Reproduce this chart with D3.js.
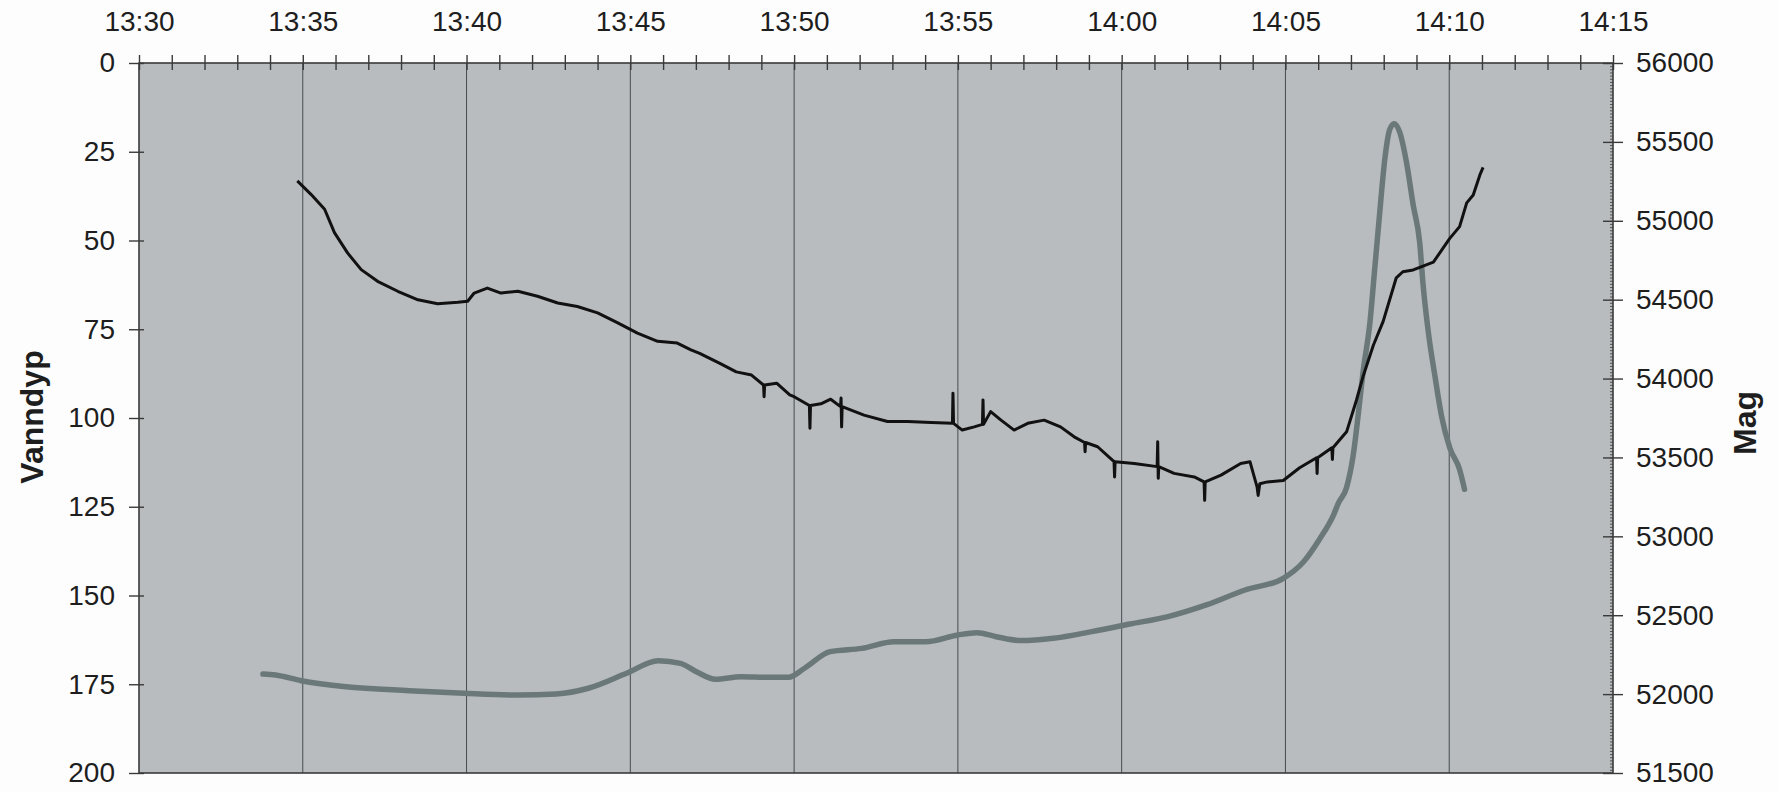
<!DOCTYPE html>
<html>
<head>
<meta charset="utf-8">
<script src="https://cdn.jsdelivr.net/npm/d3@7"></script>
<style>
  body { margin: 0; background: #fdfdfd; }
  svg text { font-family: "Liberation Sans", Arial, Helvetica, sans-serif; fill: #1e1e1e; }
</style>
</head>
<body>
<div id="chart"></div>
<script>
// tick labels
const timeTicks = ['13:30','13:35','13:40','13:45','13:50','13:55','14:00','14:05','14:10','14:15']
const depthTicks = [0, 25, 50, 75, 100, 125, 150, 175, 200]
const magTicks = [51500, 52000, 52500, 53000, 53500, 54000, 54500, 55000, 55500, 56000]

// Vanndyp (water depth)
const depthTime = ['13:34:50','13:35:15','13:35:40','13:35:58','13:36:22','13:36:47','13:37:17','13:37:54','13:38:31','13:39:07',
  '13:39:44','13:40:02','13:40:14','13:40:38','13:41:03','13:41:34','13:42:10','13:42:47','13:43:23','13:44:00',
  '13:44:37','13:45:13','13:45:50','13:46:26','13:46:51','13:47:07','13:47:44','13:48:14','13:48:42','13:49:04',
  '13:49:05','13:49:06','13:49:28','13:49:52','13:50:00','13:50:28','13:50:29','13:50:30','13:50:49','13:51:07',
  '13:51:25','13:51:26','13:51:27','13:51:28','13:52:08','13:52:51','13:53:28','13:54:11','13:54:50','13:54:51',
  '13:54:52','13:55:08','13:55:30','13:55:45','13:55:46','13:55:47','13:56:00','13:56:19','13:56:43','13:57:08',
  '13:57:38','13:58:08','13:58:33','13:58:52','13:58:53','13:58:54','13:59:16','13:59:46','13:59:47','13:59:48',
  '14:00:23','14:01:05','14:01:06','14:01:07','14:01:08','14:01:36','14:02:13','14:02:31','14:02:32','14:02:33',
  '14:03:02','14:03:38','14:03:55','14:04:08','14:04:10','14:04:13','14:04:27','14:04:56','14:05:26','14:05:57',
  '14:05:58','14:05:59','14:06:25','14:06:26','14:06:27','14:06:52','14:07:10','14:07:22','14:07:41','14:07:59',
  '14:08:23','14:08:35','14:08:54','14:09:12','14:09:31','14:10:01','14:10:19','14:10:32','14:10:44','14:10:56','14:11:02']
const depthValue = [33.2, 37, 41.2, 47.8, 53.5, 58.2, 61.5, 64.3, 66.7, 67.8,
  67.4, 67.1, 64.8, 63.4, 64.8, 64.3, 65.7, 67.6, 68.6, 70.4,
  73.2, 76.1, 78.4, 78.9, 80.8, 81.8, 84.6, 87.0, 87.9, 90.7,
  94.0, 90.7, 90.2, 93.5, 94.0, 96.5, 102.9, 96.5, 96.0, 94.7,
  96.8, 94.4, 102.5, 96.8, 99.2, 101.0, 101.0, 101.3, 101.5, 93.0,
  101.5, 103.4, 102.5, 101.8, 94.9, 101.8, 98.2, 100.6, 103.4, 101.5,
  100.6, 102.5, 105.3, 106.9, 109.5, 106.9, 108.1, 112.3, 116.6, 112.3,
  112.8, 113.7, 106.7, 117.0, 113.7, 115.6, 116.6, 118.0, 123.2, 118.0,
  116.1, 112.8, 112.3, 119.4, 121.8, 118.5, 118.0, 117.6, 114.0, 111.2,
  115.6, 111.2, 108.4, 111.7, 108.4, 103.9, 95.0, 88.4, 79.5, 72.8,
  60.5, 58.8, 58.3, 57.2, 56.1, 49.4, 46.1, 39.4, 37.2, 31.6, 29.4]

// Mag
const magTime = ['13:33:47','13:34:10','13:34:57','13:36:19','13:38:15','13:39:55','13:41:34','13:42:44','13:43:43','13:44:53',
  '13:45:51','13:46:32','13:47:01','13:47:36','13:48:23','13:49:10','13:49:50','13:50:19','13:51:06','13:52:04',
  '13:53:03','13:54:01','13:55:00','13:55:35','13:56:10','13:56:56','13:57:55','13:59:05','14:00:15','14:01:25',
  '14:02:35','14:03:46','14:04:56','14:05:32','14:06:03','14:06:28','14:06:37','14:06:52','14:07:04','14:07:13',
  '14:07:22','14:07:35','14:07:44','14:07:53','14:08:02','14:08:11','14:08:19','14:08:29','14:08:42','14:08:54',
  '14:09:06','14:09:12','14:09:22','14:09:34','14:09:46','14:10:01','14:10:19','14:10:28']
const magValue = [52127, 52121, 52085, 52047, 52022, 52005, 51994, 52001, 52037, 52132,
  52212, 52195, 52142, 52094, 52110, 52107, 52107, 52164, 52269, 52290,
  52332, 52332, 52375, 52389, 52364, 52339, 52354, 52396, 52444, 52491,
  52565, 52660, 52734, 52834, 52985, 53135, 53210, 53310, 53511, 53761,
  54037, 54363, 54713, 55064, 55390, 55578, 55615, 55565, 55365, 55100,
  54860, 54600, 54287, 54012, 53761, 53561, 53423, 53298]

const W = 1779, H = 792
const margin = {left: 139, right: 166, top: 63, bottom: 19}
const width = W - margin.left - margin.right
const height = H - margin.top - margin.bottom

const parseT = d3.timeParse('%H:%M:%S')
const parseHM = d3.timeParse('%H:%M')
const ticksT = timeTicks.map(parseHM)

const x = d3.scaleTime().domain([ticksT[0], ticksT[ticksT.length-1]]).range([0, width])
const yDepth = d3.scaleLinear().domain([0, 200]).range([0, height])
const yMag = d3.scaleLinear().domain([51500, 56000]).range([height, 0])

const svg = d3.select('#chart').append('svg')
  .attr('width', W)
  .attr('height', H)
const chart = svg.append('g').attr('transform', `translate(${margin.left},${margin.top})`)

// plot background
chart.append('rect')
  .attr('width', width)
  .attr('height', height)
  .attr('fill', '#b8bcbf')

// vertical grid every 5 minutes
chart.append('g').selectAll('line')
  .data(ticksT.slice(1, -1))
  .enter().append('line')
  .attr('x1', d => x(d)).attr('x2', d => x(d))
  .attr('y1', 0).attr('y2', height)
  .attr('stroke', '#464b4e')
  .attr('stroke-width', 1)

// minute ticks on the top axis
const minuteTicks = d3.timeMinute.range(ticksT[0], d3.timeMinute.offset(ticksT[ticksT.length-1], 1))
const topMinor = chart.append('g')
  .call(d3.axisTop(x).tickValues(minuteTicks).tickSize(8).tickFormat(''))
topMinor.select('.domain').remove()
topMinor.selectAll('.tick line').attr('y1', 7).attr('stroke', '#3a3a3a').attr('stroke-width', 1.4)

const topAxis = chart.append('g')
  .call(d3.axisTop(x).tickValues(ticksT).tickSize(0).tickFormat(d3.timeFormat('%H:%M')))
topAxis.select('.domain').remove()
topAxis.selectAll('.tick text').attr('y', -32).attr('dy', 0).attr('font-size', 28)

// left axis (depth, inverted)
const leftAxis = chart.append('g')
  .call(d3.axisLeft(yDepth).tickValues(depthTicks).tickSize(10))
leftAxis.select('.domain').remove()
leftAxis.selectAll('.tick line').attr('x2', -10).attr('x1', 5).attr('stroke', '#3a3a3a').attr('stroke-width', 1.4)
leftAxis.selectAll('.tick text').attr('x', -24).attr('font-size', 28)

// right axis (mag) with fine minor ticks
const rightMinor = chart.append('g').attr('transform', `translate(${width},0)`)
  .call(d3.axisRight(yMag).tickValues(d3.range(51500, 56001, 20)).tickSize(-3).tickFormat(''))
rightMinor.select('.domain').remove()
rightMinor.selectAll('.tick line').attr('stroke', '#3a3a3a').attr('stroke-width', 0.8)

const rightAxis = chart.append('g').attr('transform', `translate(${width},0)`)
  .call(d3.axisRight(yMag).tickValues(magTicks).tickSize(10).tickFormat(d3.format('d')))
rightAxis.select('.domain').remove()
rightAxis.selectAll('.tick line').attr('x1', -10).attr('stroke', '#3a3a3a').attr('stroke-width', 1.4)
rightAxis.selectAll('.tick text').attr('x', 23).attr('font-size', 28)

// frame
chart.append('rect')
  .attr('width', width)
  .attr('height', height)
  .attr('fill', 'none')
  .attr('stroke', '#3a3a3a')
  .attr('stroke-width', 1.6)

// series
const magData = magTime.map((t, i) => ({t: parseT(t), v: magValue[i]}))
const depthData = depthTime.map((t, i) => ({t: parseT(t), v: depthValue[i]}))

chart.append('path')
  .datum(magData)
  .attr('fill', 'none')
  .attr('stroke', '#6b7879')
  .attr('stroke-width', 5.5)
  .attr('stroke-linecap', 'round')
  .attr('stroke-linejoin', 'round')
  .attr('d', d3.line().x(d => x(d.t)).y(d => yMag(d.v)).curve(d3.curveMonotoneX))

chart.append('path')
  .datum(depthData)
  .attr('fill', 'none')
  .attr('stroke', '#111')
  .attr('stroke-width', 3)
  .attr('stroke-linejoin', 'round')
  .attr('d', d3.line().x(d => x(d.t)).y(d => yDepth(d.v)))

// axis titles
svg.append('text')
  .attr('transform', 'translate(43,417) rotate(-90)')
  .attr('text-anchor', 'middle')
  .attr('font-size', 32)
  .attr('font-weight', 'bold')
  .text('Vanndyp')
svg.append('text')
  .attr('transform', 'translate(1756,423) rotate(-90)')
  .attr('text-anchor', 'middle')
  .attr('font-size', 32)
  .attr('font-weight', 'bold')
  .text('Mag')
</script>
</body>
</html>
